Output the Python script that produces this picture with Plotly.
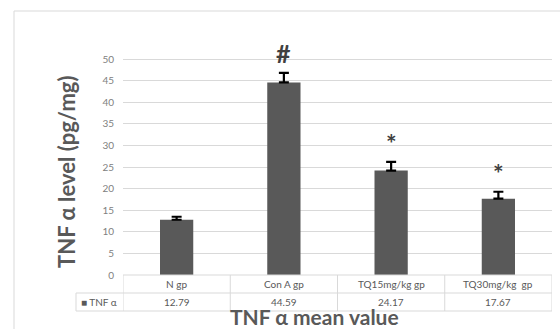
import plotly.graph_objects as go

# Group labels, mean TNF-alpha values and upper error bars
groups = ["N gp", "Con A gp", "TQ15mg/kg gp", "TQ30mg/kg  gp"]
tnf_mean = [12.79, 44.59, 24.17, 17.67]
tnf_err = [0.7, 2.2, 2.0, 1.6]
sig_marks = ["", "#", "*", "*"]
value_labels = ["12.79", "44.59", "24.17", "17.67"]
y_ticks = [0, 5, 10, 15, 20, 25, 30, 35, 40, 45, 50]

W, H = 560, 329
L, R, T, B = 123, 8, 37, 54
pw, ph = W - L - R, H - T - B

def px_x(px):
    return (px - L) / pw

def px_y(py):
    return (H - B - py) / ph

FONT = "Lato"
GRID = "#d9d9d9"
TXT = "#595959"
BAR = "#595959"

xs = list(range(len(groups)))

fig = go.Figure()
fig.add_trace(go.Bar(
    x=xs, y=tnf_mean, width=0.31,
    marker=dict(color=BAR, line=dict(width=0)),
    error_y=dict(type="data", array=tnf_err, arrayminus=[0] * len(xs),
                 symmetric=False, color="black", thickness=2.2, width=5),
    showlegend=False, hoverinfo="skip",
))

shapes = []
# outer chart frame
shapes.append(dict(type="rect", xref="paper", yref="paper",
                   x0=px_x(14), x1=px_x(575), y0=px_y(11), y1=px_y(345),
                   line=dict(color=GRID, width=1), layer="below"))

# data table under the plot
row1, row2 = px_y(293), px_y(311)
left_cell = px_x(76)
for k in range(len(groups) + 1):
    xb = k - 0.5
    shapes.append(dict(type="line", xref="x", yref="paper", x0=xb, x1=xb,
                       y0=0, y1=row2, line=dict(color=GRID, width=1)))
shapes.append(dict(type="line", xref="paper", yref="paper", x0=0, x1=1,
                   y0=0, y1=0, line=dict(color=GRID, width=1)))
for yy in (row1, row2):
    shapes.append(dict(type="line", xref="paper", yref="paper", x0=left_cell, x1=1,
                       y0=yy, y1=yy, line=dict(color=GRID, width=1)))
shapes.append(dict(type="line", xref="paper", yref="paper", x0=left_cell, x1=left_cell,
                   y0=row1, y1=row2, line=dict(color=GRID, width=1)))

annotations = []
mid1 = (0 + row1) / 2
mid2 = (row1 + row2) / 2
cell_font = dict(family=FONT, size=10, color=TXT)
for i, g in enumerate(groups):
    annotations.append(dict(x=i, y=mid1, xref="x", yref="paper", text=g,
                            xanchor="center", yanchor="middle",
                            showarrow=False, font=cell_font))
    annotations.append(dict(x=i, y=mid2, xref="x", yref="paper", text=value_labels[i],
                            xanchor="center", yanchor="middle",
                            showarrow=False, font=cell_font))
annotations.append(dict(x=px_x(79), y=mid2, xref="paper", yref="paper",
                        xanchor="left", yanchor="middle",
                        text="■ TNF α", showarrow=False, font=cell_font))

# significance markers above the error bars
for i, m in enumerate(sig_marks):
    if m:
        annotations.append(dict(x=i, y=tnf_mean[i] + tnf_err[i], xref="x", yref="y",
                                text=f"<b>{m}</b>",
                                showarrow=False, xanchor="center", yanchor="bottom",
                                yshift=3 if m == "#" else 2,
                                font=dict(family=FONT, size=25, color="#404040")))

# axis titles
annotations.append(dict(x=px_x(66), y=px_y(172), xref="paper", yref="paper",
                        xanchor="center", yanchor="middle",
                        text="<b>TNF α level (pg/mg)</b>", textangle=-90, showarrow=False,
                        font=dict(family=FONT, size=22, color=TXT)))
annotations.append(dict(x=px_x(314), y=px_y(316), xref="paper", yref="paper",
                        xanchor="center", yanchor="middle",
                        text="<b>TNF α mean value</b>", showarrow=False,
                        font=dict(family=FONT, size=21, color=TXT)))

fig.update_layout(
    width=W, height=H,
    margin=dict(l=L, r=R, t=T, b=B, pad=0),
    paper_bgcolor="white", plot_bgcolor="white",
    bargap=0.69,
    xaxis=dict(range=[-0.5, len(groups) - 0.5], showticklabels=False, showgrid=False,
               zeroline=False, showline=False, fixedrange=True),
    yaxis=dict(range=[0, 55.1], tickvals=y_ticks, showgrid=True, gridcolor=GRID, gridwidth=1,
               zeroline=False, showline=False, ticks="", ticklabelstandoff=8,
               tickfont=dict(family=FONT, size=10, color="#808080")),
    shapes=shapes, annotations=annotations,
)

fig.write_html("out.html")
